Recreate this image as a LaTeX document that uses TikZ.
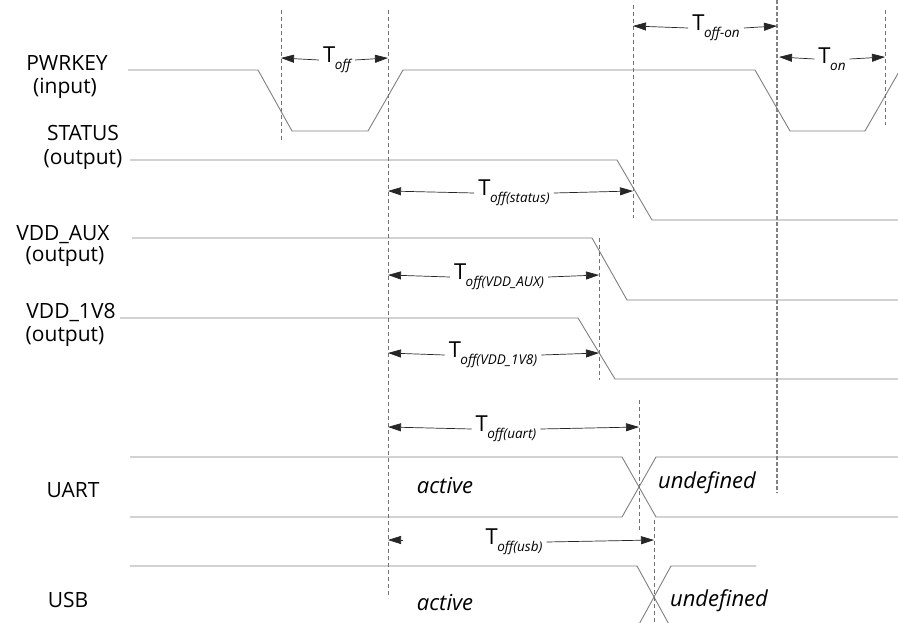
\documentclass[tikz,border=0pt]{standalone}
\usepackage{fontspec}
\setmainfont{Open Sans}
\usetikzlibrary{arrows.meta}
\newcommand\Tsb[1]{T\kern-0.5pt\raisebox{-0.3em}{\fontsize{13.5}{14}\selectfont\itshape #1}}
\tikzset{
  sig/.style={draw=black!50, line width=0.9pt, line join=miter},
  guide/.style={draw=black!55, dash pattern=on 4pt off 3pt, line width=0.8pt},
  guidebold/.style={draw=black!50, dash pattern=on 4pt off 2pt, line width=1.3pt},
  dimhead/.style={draw=black!85, line width=0.7pt, -{Triangle[length=13pt,width=8pt]}},
  lbl/.style={font=\fontsize{21}{22}\selectfont, inner sep=0pt},
  stat/.style={font=\fontsize{22}{22}\selectfont\itshape, inner sep=0pt},
  tlab/.style={font=\fontsize{22}{22}\selectfont, inner sep=4pt}
}
\begin{document}
\begin{tikzpicture}[x=1pt,y=-1pt]
\useasboundingbox (0,0) rectangle (898,623);
\fill[white] (0,0) rectangle (898,623);
\begin{scope}
\clip (0,0) rectangle (898,623);

% signal labels
\node[lbl] (pwr) at (67,63) {PWRKEY};
\node[lbl] (pwrio) at (65,88) {(input)};
\node[lbl] (st) at (83,133) {STATUS};
\node[lbl] (stio) at (83,160) {(output)};
\node[lbl] (aux) at (63,235) {VDD\_AUX};
\node[lbl] (auxio) at (65,257) {(output)};
\node[lbl] (v18) at (71,313) {VDD\_1V8};
\node[lbl] (v18io) at (65,337) {(output)};
\node[lbl] (uart) at (73,490) {UART};
\node[lbl] (usb) at (68,600) {USB};

% waveforms
\draw[sig] (128,70) -- (258,70) -- (292,131) -- (368,131) -- (403,70) -- (755,70) -- (790,131) -- (865,131) -- (900,70);
\draw[sig] (130,160) -- (617,160) -- (652,220) -- (898,220);
\draw[sig] (132,238) -- (592,238) -- (627,300) -- (898,300);
\draw[sig] (120,318) -- (578,318) -- (615,379) -- (898,379);
\draw[sig] (130,457) -- (622,457) -- (656,517) -- (898,517);
\draw[sig] (130,517) -- (622,517) -- (656,457) -- (898,457);
\draw[sig] (130,566) -- (637,566) -- (671,628);
\draw[sig] (637,628) -- (671,566) -- (756,566);

% state texts
\node[stat] (act1) at (445,486) {active};
\node[stat] (und1) at (707,483) {undefined};
\node[stat] (act2) at (445,603) {active};
\node[stat] (und2) at (719,601) {undefined};

% guide lines
\coordinate (g1a) at (281,10);  \coordinate (g1b) at (281,143);
\coordinate (g2a) at (388,10);  \coordinate (g2b) at (388,598);
\coordinate (g3a) at (633,5);   \coordinate (g3b) at (633,218);
\coordinate (g4a) at (777,0);   \coordinate (g4b) at (777,493);
\coordinate (g5a) at (885,10);  \coordinate (g5b) at (885,125);
\coordinate (g6a) at (599,238); \coordinate (g6b) at (599,380);
\coordinate (g7a) at (639,400); \coordinate (g7b) at (639,532);
\coordinate (g8a) at (654,520); \coordinate (g8b) at (654,623);
\draw[guide] (g1a) -- (g1b);
\draw[guide] (g2a) -- (g2b);
\draw[guide] (g3a) -- (g3b);
\draw[guidebold] (g4a) -- (g4b);
\draw[guide] (g5a) -- (g5b);
\draw[guide] (g6a) -- (g6b);
\draw[guide] (g7a) -- (g7b);
\draw[guide] (g8a) -- (g8b);

% dimension arrows
\node[tlab] (toff) at (337,60) {\Tsb{off}};
\draw[dimhead] (toff.west) -- (281,58);
\draw[dimhead] (toff.east) -- (388,58);

\node[tlab] (toffon) at (716,28) {\Tsb{off-on}};
\draw[dimhead] (toffon.west) -- (633,26);
\draw[dimhead] (toffon.east) -- (777,26);

\node[tlab] (ton) at (832,59) {\Tsb{on}};
\draw[dimhead] (ton.west) -- (779,57);
\draw[dimhead] (ton.east) -- (885,57);

\node[tlab] (tst) at (514,193) {\Tsb{off(status)}};
\draw[dimhead] (tst.west) -- (388,191);
\draw[dimhead] (tst.east) -- (633,191);

\node[tlab] (taux) at (499,277) {\Tsb{off(VDD\_AUX)}};
\draw[dimhead] (taux.west) -- (388,275);
\draw[dimhead] (taux.east) -- (599,275);

\node[tlab] (t18) at (493,355) {\Tsb{off(VDD\_1V8)}};
\draw[dimhead] (t18.west) -- (388,353);
\draw[dimhead] (t18.east) -- (599,353);

\node[tlab] (tua) at (506,429) {\Tsb{off(uart)}};
\draw[dimhead] (tua.west) -- (388,427);
\draw[dimhead] (tua.east) -- (639,427);

\node[tlab] (tus) at (514,542) {\Tsb{off(usb)}};
\draw[dimhead] (403,540) -- (388,540);
\draw[dimhead] (tus.east) -- (654,540);
\end{scope}
\end{tikzpicture}
\end{document}
